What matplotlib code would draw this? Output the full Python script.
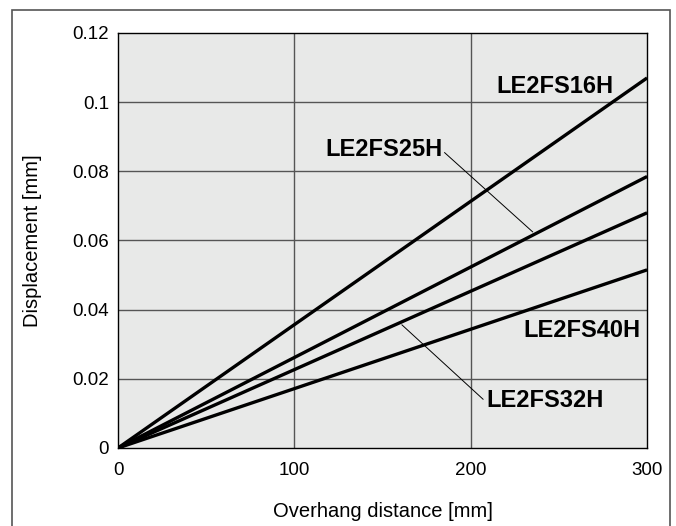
import matplotlib.pyplot as plt
from matplotlib.patches import Rectangle

plt.rcParams['font.family'] = ['Liberation Sans', 'DejaVu Sans']

# overhang distance [mm]
x = [0, 300]
models = ['LE2FS16H', 'LE2FS25H', 'LE2FS32H', 'LE2FS40H']
# displacement [mm] at 0 and 300 mm overhang
disp_16 = [0, 0.107]
disp_25 = [0, 0.0785]
disp_32 = [0, 0.068]
disp_40 = [0, 0.0515]

fig = plt.figure(figsize=(6.76, 5.26), dpi=100)
ax = fig.add_axes([0.1746, 0.1483, 0.7826, 0.789])

# outer frame around the figure
fig.patches.append(Rectangle((12 / 676, -0.05), 658 / 676, 1.05 - 10 / 526,
                             transform=fig.transFigure, fill=False,
                             edgecolor='#555555', linewidth=1.2))

ax.set_facecolor('#e8e9e8')
for v in [100, 200]:
    ax.axvline(v, color='#555555', lw=1.0, zorder=1)
for v in [0.02, 0.04, 0.06, 0.08, 0.1]:
    ax.axhline(v, color='#555555', lw=1.0, zorder=1)

for d in [disp_16, disp_25, disp_32, disp_40]:
    ax.plot(x, d, color='black', lw=2.4, zorder=3, solid_capstyle='butt')

ax.set_xlim(0, 300)
ax.set_ylim(0, 0.12)
ax.set_xticks([0, 100, 200, 300])
ax.set_yticks([0, 0.02, 0.04, 0.06, 0.08, 0.1, 0.12])
ax.set_yticklabels(['0', '0.02', '0.04', '0.06', '0.08', '0.1', '0.12'])
ax.tick_params(length=0, labelsize=13.5)
ax.tick_params(axis='x', pad=10)
ax.tick_params(axis='y', pad=6.5)
for s in ax.spines.values():
    s.set_linewidth(1.0)
    s.set_zorder(4)

ax.set_xlabel('Overhang distance [mm]', fontsize=14.5)
ax.set_ylabel('Displacement [mm]', fontsize=14.5)
ax.xaxis.set_label_coords(0.5, -0.130)
ax.yaxis.set_label_coords(-0.1437, 0.5)

lab = dict(fontsize=17, fontweight='bold', zorder=5, va='baseline')
ax.text(280.7, 0.1027, models[0], ha='right', **lab)
ax.text(184.1, 0.0844, models[1], ha='right', **lab)
ax.plot([185.2, 235.1], [0.0854, 0.0625], color='black', lw=0.7, zorder=5)
ax.text(208.9, 0.0119, models[2], ha='left', **lab)
ax.plot([161, 207], [0.0356, 0.0141], color='black', lw=0.7, zorder=5)
ax.text(296, 0.0321, models[3], ha='right', **lab)

fig.savefig('out.png', dpi=100)
